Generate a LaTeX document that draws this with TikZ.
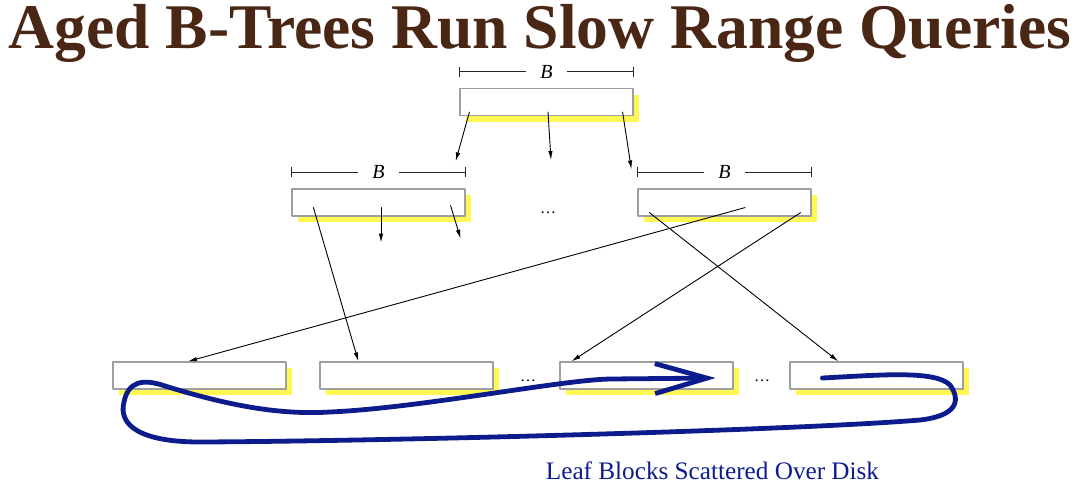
\documentclass[tikz,border=0pt]{standalone}
\usepackage{fontspec}
\setmainfont{Liberation Serif}
\usetikzlibrary{calc}
\usetikzlibrary{arrows.meta}
\usetikzlibrary{shadows}
\definecolor{ttbrown}{rgb}{0.29,0.15,0.08}
\definecolor{ddblue}{rgb}{0.05,0.11,0.55}
\definecolor{shyellow}{rgb}{1.,0.97,0.32}
\tikzset{
  block/.style={draw=gray!75,line width=0.6pt,fill=white,inner sep=0pt,
    minimum width=86.5pt,minimum height=13.5pt,
    drop shadow={shadow xshift=3pt,shadow yshift=-3pt,fill=shyellow,opacity=1}},
  ptr/.style={-{Latex[length=4.5pt,width=2.2pt]},line width=0.45pt},
  dimline/.style={{Bar[width=5pt]}-{Bar[width=5pt]},line width=0.45pt,gray!30!black},
  dotsnode/.style={font=\footnotesize}
}
\begin{document}
\begin{tikzpicture}[line cap=round,line join=round,x=0.5pt,y=-0.5pt]
            \useasboundingbox (0,0) rectangle (1080,494);
            \node[text=ttbrown,font=\fontsize{31.8}{31.8}\selectfont\bfseries] (title) at (540,33) {Aged B-Trees Run Slow Range Queries};
            % tree blocks
            \node[block] (root) at (546.5,102) {};
            \node[block] (inL) at (378.5,202.5) {};
            \node[block] (inR) at (724.5,202.5) {};
            \node[block] (leafA) at (199.5,375.5) {};
            \node[block] (leafB) at (406.5,375.5) {};
            \node[block] (leafC) at (646.5,375.5) {};
            \node[block] (leafD) at (876.5,375.5) {};
            \node[dotsnode] (dotsIn) at (548,213) {\ldots};
            \node[dotsnode] (dotsL1) at (528,381) {\ldots};
            \node[dotsnode] (dotsL2) at (762,381) {\ldots};
            % block size marks
            \foreach \b in {root,inL,inR}{
              \draw[dimline] ($(\b.north west)+(0,-16)$) -- ($(\b.north east)+(0,-16)$) node[midway,fill=white,inner xsep=7pt,inner ysep=1pt,text=black,font=\fontsize{10}{10}\selectfont]{\textit{B}};
            }
            % pointers
            \draw[ptr] ($(root.south west)+(10,-4)$) -- ($(inL.north east)+(-10,-27)$);
            \draw[ptr] ($(root.south)+(1.5,-4)$) -- ($(root.south)+(4.5,44)$);
            \draw[ptr] ($(root.south east)+(-11,-4)$) -- ($(inR.north west)+(-6,-19)$);
            \draw[ptr] ($(inL.south west)+(22,-9)$) -- ($(leafB.north west)+(39,0)$);
            \draw[ptr] ($(inL.south)+(2.5,-9)$) -- ($(inL.south)+(2.5,26)$);
            \draw[ptr] ($(inL.south east)+(-15,-11)$) -- ($(inL.south east)+(-5,22)$);
            \draw[ptr] ($(inR.south)+(20.5,-9)$) -- ($(leafA.north)+(-11.5,0)$);
            \draw[ptr] ($(inR.south east)+(-11,-4)$) -- ($(leafC.north west)+(12,0)$);
            \draw[ptr] ($(inR.south west)+(12,-4)$) -- ($(leafD.north west)+(49,0)$);
            % scan path over the leaves
            \coordinate (scanEnd) at ($(leafC.east)+(-18,2.5)$);
            \draw[ddblue,line width=2.4pt,-{Straight Barb[length=26pt,width=15pt,line width=2.4pt]}]
              ($(leafD.west)+(33,2.5)$) .. controls (880,375) and (935,370) .. (950,385)
              .. controls (962,402) and (955,416) .. (920,420)
              .. controls (800,430) and (400,441) .. (200,442)
              .. controls (140,442) and (118,425) .. (124,402)
              .. controls (128,382) and (142,378) .. (165,386)
              .. controls (230,406) and (280,415) .. (330,412)
              .. controls (420,408) and (560,380) .. (610,379)
              -- (scanEnd);
            \node[text=ddblue,font=\fontsize{12.6}{12.6}\selectfont] (caption) at (712.5,471) {Leaf Blocks Scattered Over Disk};
\end{tikzpicture}
\end{document}
